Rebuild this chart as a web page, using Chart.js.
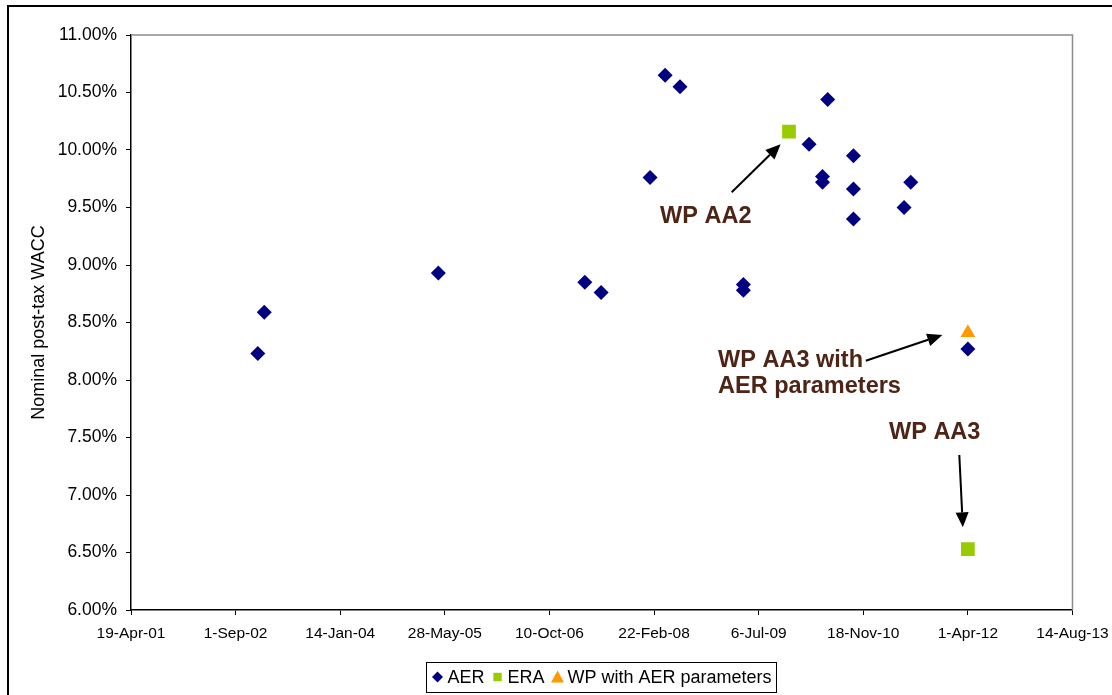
<!DOCTYPE html>
<html>
<head>
<meta charset="utf-8">
<script src="https://cdn.jsdelivr.net/npm/chart.js@4.4.1/dist/chart.umd.min.js"></script>
<style>
  body { margin: 0; background: #fff; }
</style>
</head>
<body>
<canvas id="myChart" width="1112" height="695"></canvas>
<script>
let popCanvas = document.getElementById("myChart");

// ---------------- data: decision dates and nominal post-tax WACC (%)

let aerDates = ['2002-12-16', '2003-01-16', '2005-04-27', '2007-03-28', '2007-06-14',
    '2008-02-03', '2008-04-15', '2008-06-25', '2009-04-24', '2009-04-24',
    '2010-03-04', '2010-06-01', '2010-05-07', '2010-05-07', '2010-10-02',
    '2010-10-02', '2010-10-02', '2011-06-01', '2011-07-03', '2012-04-01'];
let aerValues = [8.23, 8.59, 8.93, 8.85, 8.76,
    9.76, 10.65, 10.55, 8.83, 8.78,
    10.05, 10.44, 9.77, 9.72, 9.95,
    9.66, 9.40, 9.50, 9.72, 8.27];

let eraDates = ['2009-11-28', '2012-04-01'];
let eraValues = [10.16, 6.53];

let wpDates = ['2012-04-01'];
let wpValues = [8.41];

// x axis runs on Excel day numbers (19-Apr-01 = 37000), a tick every 500 days
let xMin = 37000, xMax = 41500, xStep = 500;
let yMin = 6, yMax = 11, yStep = 0.5;

let months = ['Jan', 'Feb', 'Mar', 'Apr', 'May', 'Jun', 'Jul', 'Aug', 'Sep', 'Oct', 'Nov', 'Dec'];
let excelZero = Date.UTC(1899, 11, 30);

function toSerial(s) {
    return Math.round((Date.parse(s) - excelZero) / 86400000);
}

function fmtDate(v) {
    let d = new Date(excelZero + v * 86400000);
    return d.getUTCDate() + '-' + months[d.getUTCMonth()] + '-' + String(d.getUTCFullYear()).slice(2);
}

function points(dates, values) {
    return dates.map((d, i) => ({ x: toSerial(d), y: values[i] }));
}

// call-outs, placed in axis units
let callouts = [
    { lines: ['WP AA2'], tx: 39529, ty: 9.365, from: [39871, 9.632], to: [40105, 10.05] },
    { lines: ['WP AA3 with', 'AER parameters'], tx: 39806, ty: 8.11, from: [40512, 8.168], to: [40878, 8.391] },
    { lines: ['WP AA3'], tx: 40623, ty: 7.487, from: [40959, 7.348], to: [40976, 6.719] }
];

Chart.defaults.font.family = "'Liberation Sans', Arial, sans-serif";
Chart.defaults.color = '#000';

// frame around the whole picture (left and top edges show) + grey plot border
let framePlugin = {
    id: 'frame',
    afterDraw(chart) {
        let ctx = chart.ctx;
        let a = chart.chartArea;
        ctx.save();
        ctx.strokeStyle = '#000';
        ctx.lineWidth = 2;
        ctx.beginPath();
        ctx.moveTo(8, 700);
        ctx.lineTo(8, 6);
        ctx.lineTo(1120, 6);
        ctx.stroke();

        ctx.strokeStyle = '#8c8c8c';
        ctx.lineWidth = 1.5;
        ctx.beginPath();
        ctx.moveTo(a.left, a.top);
        ctx.lineTo(a.right, a.top);
        ctx.lineTo(a.right, a.bottom);
        ctx.stroke();
        ctx.restore();
    }
};

let calloutPlugin = {
    id: 'callouts',
    afterDatasetsDraw(chart) {
        let ctx = chart.ctx;
        let xs = chart.scales.x, ys = chart.scales.y;
        ctx.save();
        callouts.forEach(c => {
            ctx.font = "bold 23.5px 'Liberation Sans', Arial, sans-serif";
            ctx.fillStyle = '#4d2416';
            ctx.textAlign = 'left';
            ctx.textBaseline = 'alphabetic';
            let tx = xs.getPixelForValue(c.tx), ty = ys.getPixelForValue(c.ty);
            c.lines.forEach((l, i) => ctx.fillText(l, tx, ty + i * 26));

            let x1 = xs.getPixelForValue(c.from[0]), y1 = ys.getPixelForValue(c.from[1]);
            let x2 = xs.getPixelForValue(c.to[0]), y2 = ys.getPixelForValue(c.to[1]);
            let ang = Math.atan2(y2 - y1, x2 - x1);
            let headLen = 15, headW = 6.5;
            ctx.strokeStyle = '#000';
            ctx.fillStyle = '#000';
            ctx.lineWidth = 2;
            ctx.beginPath();
            ctx.moveTo(x1, y1);
            ctx.lineTo(x2 - Math.cos(ang) * headLen, y2 - Math.sin(ang) * headLen);
            ctx.stroke();
            ctx.beginPath();
            ctx.moveTo(x2, y2);
            ctx.lineTo(x2 - Math.cos(ang) * headLen - Math.sin(ang) * headW, y2 - Math.sin(ang) * headLen + Math.cos(ang) * headW);
            ctx.lineTo(x2 - Math.cos(ang) * headLen + Math.sin(ang) * headW, y2 - Math.sin(ang) * headLen - Math.cos(ang) * headW);
            ctx.closePath();
            ctx.fill();
        });
        ctx.restore();
    }
};

// boxed legend under the axis, like the Excel one
let legendPlugin = {
    id: 'boxLegend',
    afterDraw(chart) {
        let ctx = chart.ctx;
        let sets = chart.data.datasets;
        let font = "18px 'Liberation Sans', Arial, sans-serif";
        ctx.save();
        ctx.font = font;
        let markW = 12, gap = 4, itemGap = 7, pad = 5;
        let widths = sets.map(s => markW + gap + ctx.measureText(s.label).width);
        let total = widths.reduce((p, q) => p + q, 0) + itemGap * (sets.length - 1) + pad * 2;
        let cx = 601.5, cy = 677, h = 30;
        let left = Math.round(cx - total / 2) + 0.5;
        ctx.strokeStyle = '#000';
        ctx.lineWidth = 1;
        ctx.strokeRect(left, cy - h / 2 + 0.5, Math.round(total), h);

        let x = left + pad;
        sets.forEach((s, i) => {
            let mx = x + markW / 2;
            ctx.fillStyle = s.backgroundColor;
            ctx.beginPath();
            if (s.pointStyle === 'rectRot') {
                ctx.moveTo(mx, cy - 5.5);
                ctx.lineTo(mx + 5.5, cy);
                ctx.lineTo(mx, cy + 5.5);
                ctx.lineTo(mx - 5.5, cy);
            } else if (s.pointStyle === 'rect') {
                ctx.rect(mx - 4.2, cy - 4.2, 8.4, 8.4);
            } else {
                ctx.moveTo(mx, cy - 6.5);
                ctx.lineTo(mx + 6.5, cy + 5.5);
                ctx.lineTo(mx - 6.5, cy + 5.5);
            }
            ctx.closePath();
            ctx.fill();
            ctx.fillStyle = '#000';
            ctx.textAlign = 'left';
            ctx.textBaseline = 'middle';
            ctx.fillText(s.label, x + markW + gap, cy + 1);
            x += widths[i] + itemGap;
        });
        ctx.restore();
    }
};

let waccChart = new Chart(popCanvas, {
    type: 'scatter',
    data: {
        datasets: [
            {
                label: 'AER',
                data: points(aerDates, aerValues),
                pointStyle: 'rectRot',
                pointRadius: 7.5,
                pointBorderWidth: 0,
                backgroundColor: '#000080',
                borderColor: '#000080'
            },
            {
                label: 'ERA',
                data: points(eraDates, eraValues),
                pointStyle: 'rect',
                pointRadius: 9.7,
                pointBorderWidth: 0,
                backgroundColor: '#99cc00',
                borderColor: '#99cc00'
            },
            {
                label: 'WP with AER parameters',
                data: points(wpDates, wpValues),
                pointStyle: 'triangle',
                pointRadius: 8.5,
                pointBorderWidth: 0,
                backgroundColor: '#ff9900',
                borderColor: '#ff9900'
            }
        ]
    },
    options: {
        responsive: false,
        animation: false,
        layout: { padding: { top: 35, right: 39.5, left: 0, bottom: 0 } },
        plugins: {
            legend: { display: false },
            tooltip: { enabled: false }
        },
        scales: {
            x: {
                type: 'linear',
                min: xMin,
                max: xMax,
                afterFit(scale) {
                    scale.height = 85;
                    scale.paddingLeft = 0;
                    scale.paddingRight = 0;
                },
                border: { color: '#000', width: 1.5 },
                grid: { drawOnChartArea: false, drawTicks: true, tickLength: 5, color: '#000' },
                ticks: {
                    stepSize: xStep,
                    autoSkip: false,
                    maxRotation: 0,
                    padding: 9,
                    font: { size: 15.5 },
                    callback: v => fmtDate(v)
                }
            },
            y: {
                min: yMin,
                max: yMax,
                afterFit(scale) {
                    scale.width = 131;
                    scale.paddingTop = 0;
                    scale.paddingBottom = 0;
                },
                border: { color: '#000', width: 1.5 },
                grid: { drawOnChartArea: false, drawTicks: true, tickLength: 5, color: '#000' },
                title: {
                    display: true,
                    text: 'Nominal post-tax WACC',
                    font: { size: 18 },
                    padding: { top: 28, bottom: 0 }
                },
                ticks: {
                    stepSize: yStep,
                    padding: 9,
                    font: { size: 17.5 },
                    callback: v => v.toFixed(2) + '%'
                }
            }
        }
    },
    plugins: [framePlugin, calloutPlugin, legendPlugin]
});
</script>
</body>
</html>
